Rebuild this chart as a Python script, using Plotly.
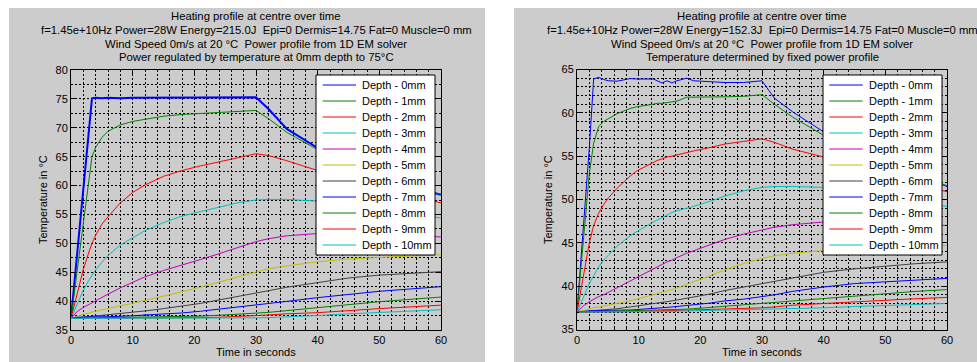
import plotly.graph_objects as go

W, H = 977, 362


def X(px):
    return px / W


def Y(py):
    return 1 - py / H


FONT = "Liberation Sans, Arial, sans-serif"

DEPTH_LABELS = ["Depth - 0mm", "Depth - 1mm", "Depth - 2mm", "Depth - 3mm", "Depth - 4mm",
                "Depth - 5mm", "Depth - 6mm", "Depth - 7mm", "Depth - 8mm", "Depth - 9mm",
                "Depth - 10mm"]
COLORS = ["#0000FF", "#008000", "#FF0000", "#00BFBF", "#BF00BF", "#BFBF00", "#404040",
          "#0000FF", "#008000", "#FF0000", "#00BFBF"]

LEFT_TITLE = ["Heating profile at centre over time",
              "f=1.45e+10Hz Power=28W Energy=215.0J  Epi=0 Dermis=14.75 Fat=0 Muscle=0 mm",
              "Wind Speed 0m/s at 20 °C  Power profile from 1D EM solver",
              "Power regulated by temperature at 0mm depth to 75°C"]
RIGHT_TITLE = ["Heating profile at centre over time",
               "f=1.45e+10Hz Power=28W Energy=152.3J  Epi=0 Dermis=14.75 Fat=0 Muscle=0 mm",
               "Wind Speed 0m/s at 20 °C  Power profile from 1D EM solver",
               "Temperature determined by fixed power profile"]
X_TITLE = "Time in seconds"
Y_TITLE = "Temperature in °C"

# ---------------- left panel: power regulated ----------------
T_LEFT = [0, 1, 2, 3, 3.4, 4, 5, 6, 8, 10, 12, 15, 18, 21, 24, 27, 30, 32, 35, 40, 45, 50, 55, 60]
LEFT_D0 = [37, 48.2, 59.4, 70.6, 75.1, 75.2, 75.1, 75.2, 75.1, 75.2, 75.2, 75.2, 75.3, 75.2, 75.3, 75.2, 75.3,
           73.3, 69.8, 66.5, 63.8, 61.6, 59.8, 58.4]
LEFT_D1 = [37, 45.2, 53.5, 61.7, 65.0, 66.6, 68.3, 69.4, 70.5, 71.1, 71.5, 72.0, 72.3, 72.5, 72.7, 72.9, 73.0,
           71.6, 69.2, 66.2, 63.6, 61.5, 59.8, 58.5]
LEFT_D2 = [37, 41.5, 45.5, 48.8, 50.0, 51.4, 53.3, 54.6, 57.0, 58.8, 60.1, 61.6, 62.6, 63.4, 64.1, 64.8, 65.5,
           65.2, 64.3, 62.6, 61.0, 59.6, 58.3, 57.0]
LEFT_D3 = [37, 39.6, 41.9, 43.8, 44.5, 45.4, 46.7, 47.9, 49.7, 51.0, 52.2, 53.6, 54.7, 55.5, 56.3, 57.0, 57.5,
           57.6, 57.6, 57.3, 56.6, 55.8, 55.1, 54.4]
LEFT_D4 = [37, 38.2, 38.9, 39.5, 39.7, 40.1, 40.7, 41.2, 42.3, 43.3, 44.2, 45.3, 46.2, 47.2, 48.2, 49.3, 50.3,
           50.8, 51.3, 51.7, 51.7, 51.6, 51.4, 51.1]
LEFT_D5 = [37, 37.4, 37.7, 38.0, 38.1, 38.25, 38.5, 38.7, 39.2, 39.6, 40.1, 40.9, 41.6, 42.4, 43.3, 44.2, 45.1,
           45.6, 46.1, 46.8, 47.3, 47.6, 47.8, 48.0]
LEFT_D6 = [37, 37.1, 37.2, 37.3, 37.35, 37.4, 37.5, 37.6, 37.8, 38.0, 38.3, 38.7, 39.1, 39.6, 40.2, 40.8, 41.4,
           41.8, 42.4, 43.2, 44.0, 44.5, 44.8, 45.1]
LEFT_D7 = [37, 37.2, 37.25, 37.3, 37.3, 37.3, 37.3, 37.3, 37.35, 37.45, 37.6, 37.75, 37.95, 38.25, 38.6, 38.95,
           39.3, 39.55, 39.95, 40.6, 41.2, 41.7, 42.1, 42.5]
LEFT_D8 = [37, 37.05, 37.1, 37.1, 37.1, 37.12, 37.14, 37.15, 37.18, 37.2, 37.22, 37.25, 37.3, 37.4, 37.55, 37.7,
           37.9, 38.05, 38.35, 38.9, 39.4, 39.9, 40.3, 40.7]
LEFT_D9 = [37, 37, 37, 37, 37, 37.01, 37.02, 37.03, 37.04, 37.05, 37.06, 37.08, 37.1, 37.13, 37.2, 37.3, 37.5,
           37.6, 37.8, 38.0, 38.4, 38.7, 39.0, 39.3]
LEFT_D10 = [37, 37, 37, 37, 37, 37, 37, 37, 37.01, 37.01, 37.02, 37.03, 37.04, 37.05, 37.06, 37.08, 37.1,
            37.15, 37.25, 37.5, 37.8, 38.05, 38.3, 38.5]

# ---------------- right panel: fixed power ----------------
T_RIGHT = [0, 1, 2, 2.7, 3.5, 4.3, 5.1, 6.5, 8.6, 9.7, 12.4, 13, 13.8, 14.6, 15.4, 16.2, 17.8, 18.9, 21.6,
           24, 27, 30, 32, 35, 40, 45, 50, 55, 60]
RIGHT_D0 = [37, 46.5, 56, 63.9, 64.1, 63.85, 63.7, 63.65, 63.95, 63.9, 63.9, 63.7, 63.45, 63.7, 63.45, 63.7,
            64.0, 63.7, 63.6, 63.5, 63.5, 63.7, 61.7, 60.1, 57.8, 55.9, 54.2, 52.8, 51.5]
RIGHT_D1 = [37, 45, 53, 56.5, 58.4, 59.0, 59.3, 59.9, 60.5, 60.7, 61.0, 61.1, 61.1, 61.2, 61.3, 61.35, 61.8,
            61.8, 61.8, 61.85, 61.9, 62.1, 61.0, 59.5, 57.4, 55.7, 54.1, 52.8, 51.6]
RIGHT_D2 = [37, 41, 45, 47, 48.4, 49.4, 50.2, 51.3, 52.7, 53.3, 54.3, 54.5, 54.7, 54.9, 55.0, 55.15, 55.4,
            55.6, 56.0, 56.4, 56.7, 57.0, 56.6, 55.8, 54.9, 53.8, 52.8, 51.8, 50.9]
RIGHT_D3 = [37, 38.7, 40.3, 41.2, 42.2, 43.0, 43.6, 44.6, 45.8, 46.3, 47.4, 47.6, 47.9, 48.2, 48.5, 48.7, 49.0,
            49.2, 49.8, 50.4, 51.0, 51.4, 51.5, 51.5, 51.4, 50.9, 50.3, 49.7, 49.2]
RIGHT_D4 = [37, 37.7, 38.2, 38.5, 38.8, 39.0, 39.3, 39.8, 40.6, 41.0, 42.0, 42.2, 42.5, 42.8, 43.0, 43.3, 43.8,
            44.1, 44.8, 45.4, 46.0, 46.5, 46.8, 47.1, 47.4, 47.4, 47.3, 47.2, 47.0]
RIGHT_D5 = [37, 37.2, 37.4, 37.5, 37.6, 37.7, 37.8, 38.0, 38.3, 38.5, 39.0, 39.1, 39.3, 39.4, 39.6, 39.8, 40.2,
            40.5, 41.2, 41.9, 42.6, 43.2, 43.5, 43.8, 44.1, 44.4, 44.5, 44.6, 44.7]
RIGHT_D6 = [37, 37.05, 37.1, 37.15, 37.2, 37.25, 37.3, 37.4, 37.6, 37.7, 37.95, 38.0, 38.1, 38.2, 38.3, 38.4,
            38.6, 38.8, 39.1, 39.5, 39.9, 40.3, 40.6, 41.0, 41.6, 42.0, 42.3, 42.6, 42.8]
RIGHT_D7 = [37, 37.1, 37.15, 37.2, 37.2, 37.2, 37.2, 37.2, 37.25, 37.3, 37.4, 37.45, 37.5, 37.55, 37.6, 37.65,
            37.75, 37.85, 38.05, 38.3, 38.5, 38.8, 39.0, 39.4, 39.9, 40.3, 40.5, 40.7, 40.9]
RIGHT_D8 = [37, 37.02, 37.03, 37.04, 37.05, 37.06, 37.07, 37.08, 37.1, 37.12, 37.18, 37.2, 37.22, 37.25, 37.28,
            37.3, 37.35, 37.4, 37.55, 37.7, 37.85, 38.0, 38.1, 38.3, 38.6, 38.9, 39.1, 39.4, 39.6]
RIGHT_D9 = [37, 37.0, 37.0, 37.0, 37.02, 37.03, 37.04, 37.05, 37.07, 37.08, 37.12, 37.13, 37.15, 37.17, 37.19,
            37.2, 37.25, 37.28, 37.35, 37.4, 37.45, 37.5, 37.6, 37.8, 38.0, 38.2, 38.35, 38.55, 38.7]
RIGHT_D10 = [37, 37, 37, 37, 37, 37, 37.01, 37.02, 37.03, 37.04, 37.06, 37.07, 37.08, 37.09, 37.1, 37.11, 37.13,
             37.15, 37.18, 37.22, 37.26, 37.3, 37.34, 37.4, 37.5, 37.65, 37.78, 37.9, 38.0]

X_TICKS = [0, 10, 20, 30, 40, 50, 60]
LEFT_Y_TICKS = [35, 40, 45, 50, 55, 60, 65, 70, 75, 80]
RIGHT_Y_TICKS = [35, 40, 45, 50, 55, 60, 65]

LEFT_SERIES = [LEFT_D0, LEFT_D1, LEFT_D2, LEFT_D3, LEFT_D4, LEFT_D5, LEFT_D6, LEFT_D7, LEFT_D8, LEFT_D9, LEFT_D10]
RIGHT_SERIES = [RIGHT_D0, RIGHT_D1, RIGHT_D2, RIGHT_D3, RIGHT_D4, RIGHT_D5, RIGHT_D6, RIGHT_D7, RIGHT_D8,
                RIGHT_D9, RIGHT_D10]

fig = go.Figure()

for i, ys in enumerate(LEFT_SERIES):
    fig.add_trace(go.Scatter(x=T_LEFT, y=ys, mode="lines", name=DEPTH_LABELS[i], showlegend=False,
                             line=dict(color=COLORS[i], width=2 if i == 0 else 1),
                             xaxis="x", yaxis="y"))
for i, ys in enumerate(RIGHT_SERIES):
    fig.add_trace(go.Scatter(x=T_RIGHT, y=ys, mode="lines", name=DEPTH_LABELS[i], showlegend=False,
                             line=dict(color=COLORS[i], width=1),
                             xaxis="x2", yaxis="y2"))

grid_dash = "2px,2px"


def axis(domain, tickvals, rng, minor_dtick, anchor):
    return dict(domain=domain, range=rng, tickmode="array", tickvals=tickvals,
                showline=True, linecolor="black", linewidth=1, mirror="ticks",
                ticks="inside", ticklen=4, tickcolor="black", tickwidth=1,
                tickfont=dict(family=FONT, size=11, color="black"),
                showgrid=True, gridcolor="black", gridwidth=1, griddash=grid_dash,
                zeroline=False, anchor=anchor, automargin=False, fixedrange=True,
                minor=dict(dtick=minor_dtick, tick0=rng[0], showgrid=True, gridcolor="black",
                           gridwidth=1, griddash=grid_dash, ticks="inside", ticklen=2,
                           tickcolor="black"))


fig.update_layout(
    width=W, height=H, margin=dict(l=0, r=0, t=0, b=0, pad=0),
    paper_bgcolor="white", plot_bgcolor="white", showlegend=False,
    xaxis=axis([X(71), X(441)], X_TICKS, [0, 60], 2, "y"),
    yaxis=axis([1 - 330 / H, 1 - 70 / H], LEFT_Y_TICKS, [35, 80], 2.5, "x"),
    xaxis2=axis([X(577), X(947)], X_TICKS, [0, 60], 2, "y2"),
    yaxis2=axis([1 - 329.5 / H, 1 - 69.5 / H], RIGHT_Y_TICKS, [35, 65], 1, "x2"),
)

shapes = [
    dict(type="rect", xref="paper", yref="paper", x0=X(9), x1=X(485), y0=Y(362), y1=Y(8),
         fillcolor="#cccccc", line=dict(width=0), layer="below"),
    dict(type="rect", xref="paper", yref="paper", x0=X(514), x1=X(977), y0=Y(362), y1=Y(8),
         fillcolor="#cccccc", line=dict(width=0), layer="below"),
]
annotations = []


def txt(s, x, y, xanchor="center", size=11, angle=0):
    annotations.append(dict(text=s, x=X(x), y=Y(y), xref="paper", yref="paper", showarrow=False,
                            xanchor=xanchor, yanchor="middle", textangle=angle,
                            font=dict(family=FONT, size=size, color="black")))


title_rows = [16, 30, 43.5, 57]
for k, line in enumerate(LEFT_TITLE):
    txt(line, 256, title_rows[k], size=11.3)
for k, line in enumerate(RIGHT_TITLE):
    txt(line, 762, title_rows[k], size=11.3)

txt(X_TITLE, 256, 352)
txt(X_TITLE, 762, 352)
txt(Y_TITLE, 43, 200, angle=-90)
txt(Y_TITLE, 548, 200, angle=-90)

# legends (box, sample lines, labels)
for (bx0, bx1, lx0, lx1, tx) in [(316, 435, 322.7, 356, 360), (823, 942, 829.3, 862.7, 866.7)]:
    shapes.append(dict(type="rect", xref="paper", yref="paper", x0=X(bx0), x1=X(bx1), y0=Y(255), y1=Y(75),
                       fillcolor="white", line=dict(color="black", width=1), layer="above"))
    for i, lab in enumerate(DEPTH_LABELS):
        yc = 85 + 16 * i
        shapes.append(dict(type="line", xref="paper", yref="paper", x0=X(lx0), x1=X(lx1), y0=Y(yc), y1=Y(yc),
                           line=dict(color=COLORS[i], width=1), layer="above"))
        txt(lab, tx, yc, xanchor="left")

fig.update_layout(shapes=shapes, annotations=annotations)

fig.write_html("out.html")
